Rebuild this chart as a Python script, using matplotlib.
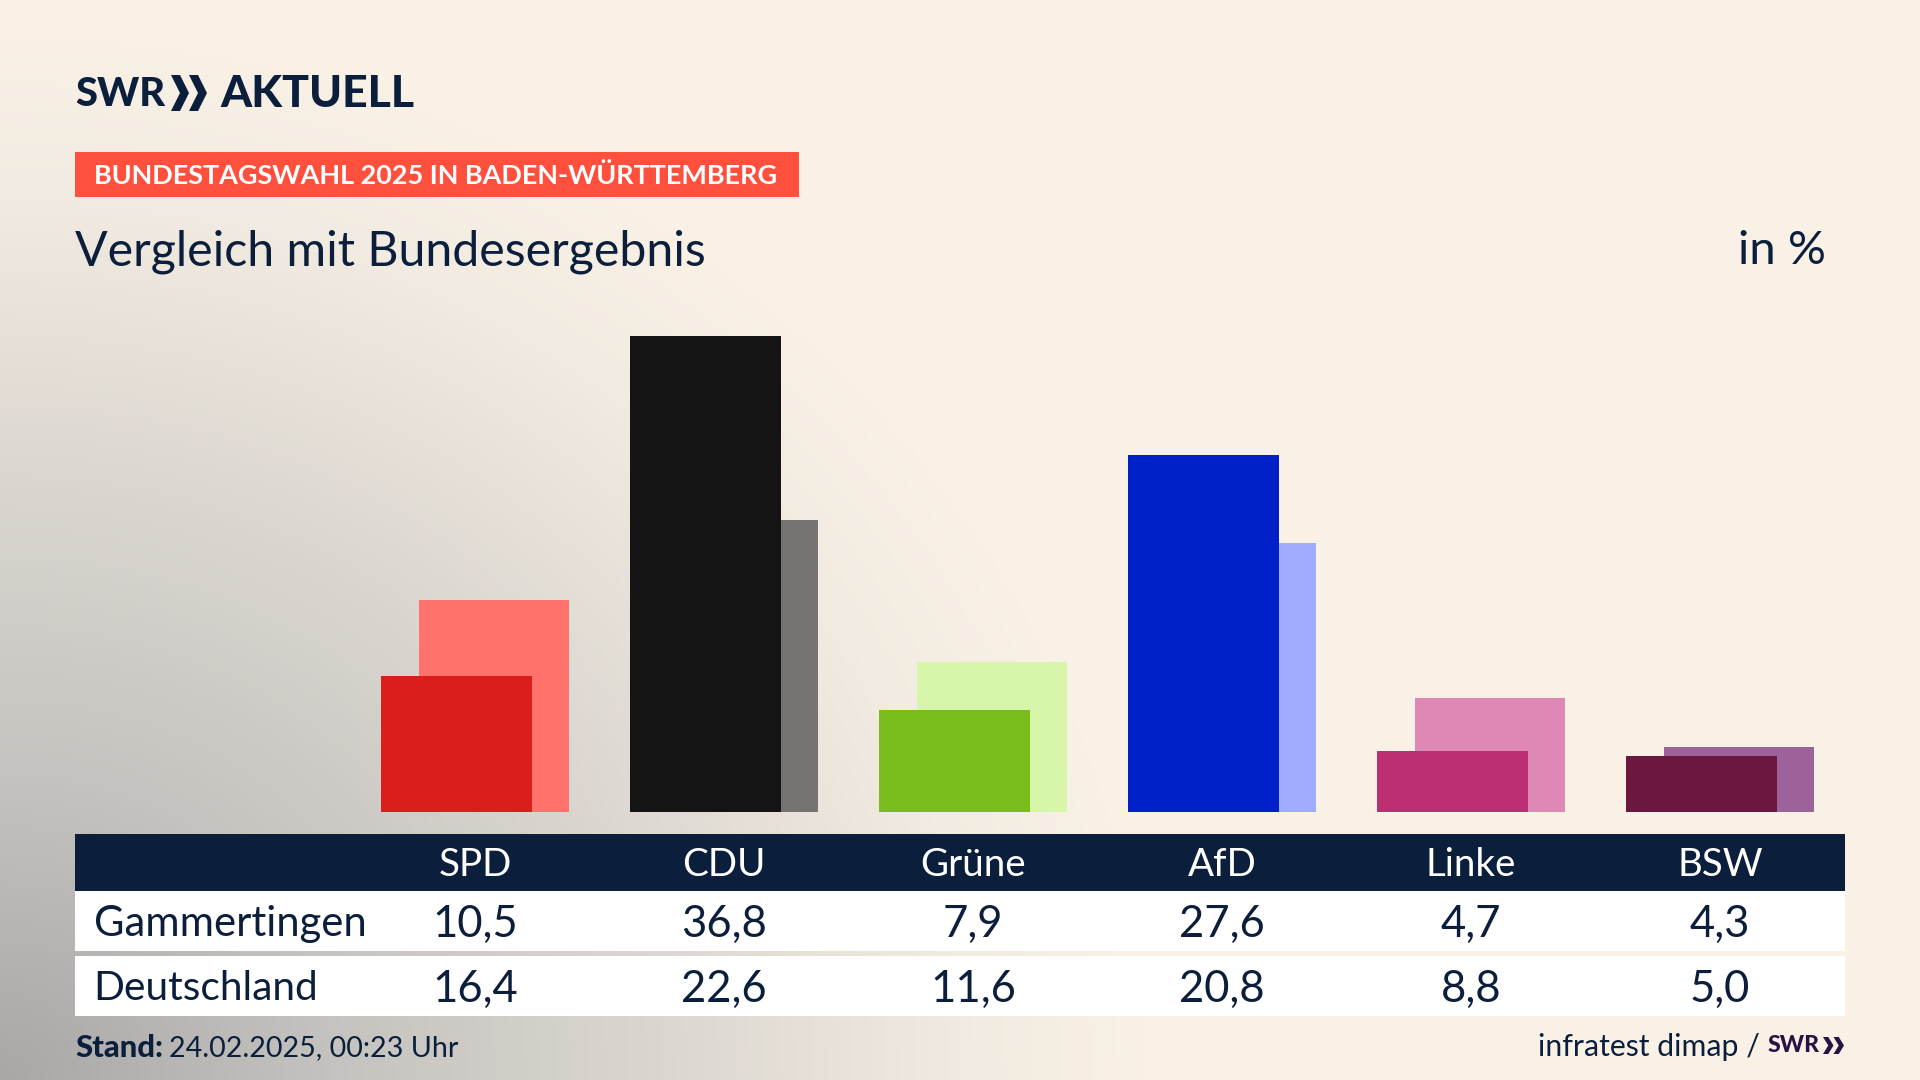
import numpy as np
import matplotlib
matplotlib.use("Agg")
import matplotlib.pyplot as plt
from matplotlib.patches import Rectangle, Polygon
from matplotlib.colors import LinearSegmentedColormap

parties = ["SPD", "CDU", "Grüne", "AfD", "Linke", "BSW"]
gammertingen = [10.5, 36.8, 7.9, 27.6, 4.7, 4.3]
deutschland = [16.4, 22.6, 11.6, 20.8, 8.8, 5.0]
gam_labels = ["10,5", "36,8", "7,9", "27,6", "4,7", "4,3"]
de_labels = ["16,4", "22,6", "11,6", "20,8", "8,8", "5,0"]
dark_colors = ["#D81F1C", "#141414", "#79BC1B", "#0020C8", "#BC2F73", "#6A1840"]
light_colors = ["#FF736C", "#757472", "#D7F6A9", "#A0ADFF", "#E088B5", "#9D6299"]
row_names = ["Gammertingen", "Deutschland"]

NAVY = "#0B1F3D"
plt.rcParams["font.family"] = ["Lato", "DejaVu Sans"]

W, H = 1920, 1080
fig = plt.figure(figsize=(19.2, 10.8), dpi=100)

bg = fig.add_axes([0, 0, 1, 1])
bg.set_xlim(0, W); bg.set_ylim(H, 0); bg.axis("off")
yy, xx = np.mgrid[0:H:270j, 0:W:480j]
d = np.sqrt((xx / 1150) ** 2 + ((H - yy) / 1050) ** 2)
t = np.clip(d, 0, 1)
cmap = LinearSegmentedColormap.from_list(
    "bg", [(0, "#A9A8A7"), (0.3, "#C6C4C0"), (0.6, "#DDD8D1"), (0.85, "#F2EBE1"), (1, "#F9F1E6")])
bg.imshow(t, extent=(0, W, H, 0), cmap=cmap, vmin=0, vmax=1, aspect="auto", zorder=0)
bg.set_xlim(0, W); bg.set_ylim(H, 0)


def px(size):
    return size * 0.72


def chevrons(x0, y0, y1, w, color):
    mid = (y0 + y1) / 2
    for i in range(2):
        x = x0 + i * w
        bg.add_patch(Polygon([(x, y0), (x + w * 0.5, y0), (x + w, mid), (x + w * 0.5, y1),
                              (x, y1), (x + w * 0.5, mid)], closed=True, fc=color, ec="none", zorder=3))


# logo
bg.text(75, 94, "SWR", fontsize=px(40), fontweight="black", color=NAVY, va="center", ha="left", zorder=3)
chevrons(171, 75, 111, 18, NAVY)
bg.text(220, 94, "AKTUELL", fontsize=px(44.5), fontweight="black", color=NAVY, va="center", ha="left", zorder=3)

# banner
bg.add_patch(Rectangle((75, 152), 724, 45, fc="#FF4F3D", ec="none", zorder=2))
bg.text(94, 176, "BUNDESTAGSWAHL 2025 IN BADEN-WÜRTTEMBERG", fontsize=px(27), fontweight="bold",
        color="white", va="center", ha="left", zorder=3)

# title
bg.text(75, 251.5, "Vergleich mit Bundesergebnis", fontsize=px(48.3), color=NAVY, va="center", ha="left", zorder=3)
bg.text(1826, 251.5, "in %", fontsize=px(47.5), color=NAVY, va="center", ha="right", zorder=3)

# table
bg.add_patch(Rectangle((75, 834), 1770, 57, fc=NAVY, ec="none", zorder=2))
bg.add_patch(Rectangle((75, 891), 1770, 60, fc="white", ec="none", zorder=2))
bg.add_patch(Rectangle((75, 956), 1770, 60, fc="white", ec="none", zorder=2))
COL0, STEP = 475, 249
for i, p in enumerate(parties):
    cx = COL0 + i * STEP
    bg.text(cx, 864.5, p, fontsize=px(38.5), color="white", ha="center", va="center", zorder=3)
    bg.text(cx, 924.5, gam_labels[i], fontsize=px(43.6), color=NAVY, ha="center", va="center", zorder=3)
    bg.text(cx, 989.5, de_labels[i], fontsize=px(43.6), color=NAVY, ha="center", va="center", zorder=3)
bg.text(93.5, 924, row_names[0], fontsize=px(41.7), color=NAVY, ha="left", va="center", zorder=3)
bg.text(93.5, 989, row_names[1], fontsize=px(40.6), color=NAVY, ha="left", va="center", zorder=3)

# footer
bg.text(75, 1048, "Stand:", fontsize=px(31), fontweight="black", color=NAVY, ha="left", va="center", zorder=3)
bg.text(169, 1048, "24.02.2025, 00:23 Uhr", fontsize=px(28.6), color=NAVY, ha="left", va="center", zorder=3)
bg.text(1760, 1047, "infratest dimap /", fontsize=px(30.2), color=NAVY, ha="right", va="center", zorder=3)
bg.text(1768, 1046, "SWR", fontsize=px(23), fontweight="black", color="#2A1245", ha="left", va="center", zorder=3)
chevrons(1823, 1037, 1054, 10.5, "#2A1245")

# bars
BASE = 812
SCALE = 476 / 36.8
ax = fig.add_axes([0, (H - BASE) / H, 1, 500 / H])
ax.set_xlim(-COL0 / STEP, (W - COL0) / STEP)
ax.set_ylim(0, 500 / SCALE)
ax.axis("off")
ax.patch.set_alpha(0)
x = np.arange(len(parties))
ax.bar(x + 19.2 / STEP, deutschland, width=150.2 / STEP, color=light_colors, linewidth=0, zorder=1)
ax.bar(x - 18.5 / STEP, gammertingen, width=151 / STEP, color=dark_colors, linewidth=0, zorder=2)

fig.savefig("out.png", dpi=100)
